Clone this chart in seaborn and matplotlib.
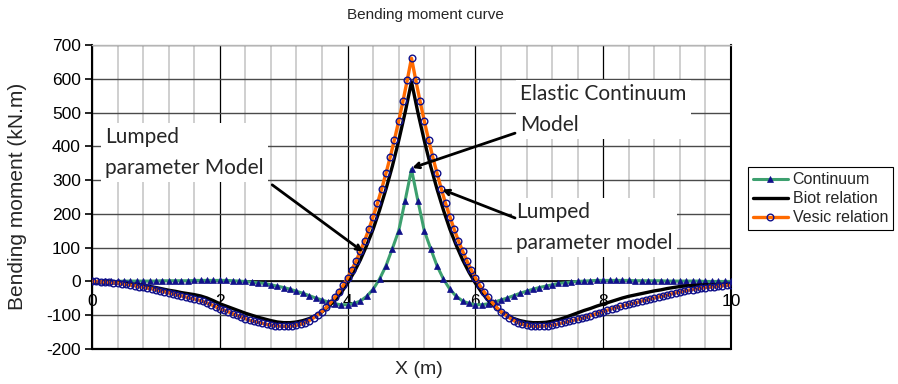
import numpy as np
import pandas as pd
import matplotlib
matplotlib.use("Agg")
import matplotlib.pyplot as plt
from matplotlib.ticker import MultipleLocator
import seaborn as sns

# ---------------- data ----------------
title = "Bending moment curve"
xlabel = "X (m)"
ylabel = "Bending moment (kN.m)"
series_names = ["Continuum", "Biot relation", "Vesic relation"]

x_tick_values = [0, 2, 4, 6, 8, 10]
y_tick_values = [-200, -100, 0, 100, 200, 300, 400, 500, 600, 700]

# Continuum (sampled every 0.1 m)
continuum = [0, 0, 0, 0, 0, 1, 1, 1, 1, 1,
             1, 2, 2, 2, 2, 2, 3, 3, 3, 3,
             3, 3, 2, 1, 0, -2, -4, -6, -10, -14,
             -18, -23, -29, -35, -42, -49, -55, -61, -66, -69,
             -69, -65, -58, -44, -23, 7, 46, 97, 150, 239,
             332,
             239, 150, 97, 46, 7, -23, -44, -58, -65, -69,
             -69, -66, -61, -55, -49, -42, -35, -29, -23, -18,
             -14, -10, -6, -4, -2, 0, 1, 2, 3, 3,
             3, 3, 3, 3, 2, 2, 2, 2, 2, 1,
             1, 1, 1, 1, 1, 0, 0, 0, 0, 0]

# Biot relation (sampled every 0.1 m)
biot = [0, -1, -1, -2, -3, -5, -7, -9, -12, -15,
        -18, -22, -26, -29, -33, -36, -39, -43, -49, -57,
        -66, -73, -80, -87, -94, -100, -106, -111, -116, -120,
        -122, -122, -120, -116, -110, -101, -90, -74, -56, -33,
        -5, 27, 64, 107, 155, 211, 273, 341, 417, 500,
        591,
        500, 417, 341, 273, 211, 155, 107, 64, 27, -5,
        -33, -56, -74, -90, -101, -110, -116, -120, -122, -122,
        -121, -118, -113, -107, -100, -93, -86, -80, -73, -67,
        -61, -55, -49, -44, -40, -36, -32, -28, -25, -21,
        -18, -15, -13, -12, -11, -10, -10, -9, -9, -8]

# Vesic relation (sampled every 1/15 m)
vesic = [0, 0, -1, -2, -3, -4, -5, -7, -9, -11,
         -13, -15, -17, -20, -22, -25, -28, -31, -34, -37,
         -40, -43, -46, -49, -52, -55, -59, -64, -69, -75,
         -81, -85, -90, -95, -100, -105, -110, -115, -118, -121,
         -124, -127, -129, -131, -132, -133,
         -133, -132, -130, -127, -122, -116, -108, -99, -89, -77,
         -63, -47, -30, -11, 11, 35, 61, 90, 121, 155,
         192, 231, 274, 320, 368, 420, 475, 534, 596, 661,
         596, 534, 475, 420, 368, 320, 274, 231, 192, 155,
         121, 90, 61, 35, 11, -11, -30, -47, -63, -77,
         -89, -99, -108, -116, -122,
         -127, -130, -132, -133, -133, -132, -131, -129, -127, -124,
         -121, -118, -115, -112, -109, -105, -101, -97, -93, -89,
         -85, -81, -78, -74, -71, -68, -65, -62, -58, -55,
         -52, -49, -46, -43, -40, -37, -34, -31, -28, -26,
         -24, -22, -20, -18, -17, -16, -14, -13, -12, -10]

x_coarse = np.linspace(0, 10, len(continuum))
x_fine = np.linspace(0, 10, len(vesic))

ann_elastic = "Elastic Continuum\nModel"
ann_lumped_left = "Lumped\nparameter Model"
ann_lumped_right = "Lumped\nparameter model"

# ---------------- style ----------------
sns.set_theme(style="white")
plt.rcParams["font.family"] = ["Liberation Sans", "DejaVu Sans"]

W, H = 898, 384
fig = plt.figure(figsize=(W / 100, H / 100), dpi=100)
ax = fig.add_axes([92 / W, 1 - 349 / H, (731 - 92) / W, (349 - 45) / H])

green = "#3DA06F"
orange = "#FF6A00"
navy = "#10108A"

df_c = pd.DataFrame({"x": x_coarse, "y": continuum})
df_b = pd.DataFrame({"x": x_coarse, "y": biot})
df_v = pd.DataFrame({"x": x_fine, "y": vesic})

sns.lineplot(data=df_c, x="x", y="y", ax=ax, color=green, lw=2.2,
             marker="^", markersize=5, markerfacecolor=navy,
             markeredgecolor=navy, markeredgewidth=0.5,
             label=series_names[0], sort=False, estimator=None, zorder=4)
sns.lineplot(data=df_b, x="x", y="y", ax=ax, color="black", lw=2.4,
             label=series_names[1], sort=False, estimator=None, zorder=4)
sns.lineplot(data=df_v, x="x", y="y", ax=ax, color=orange, lw=2.4,
             marker="o", markersize=4.8, markerfacecolor="none",
             markeredgecolor=navy, markeredgewidth=1.0,
             label=series_names[2], sort=False, estimator=None, zorder=5)

ax.set_xlim(0, 10)
ax.set_ylim(-200, 700)
ax.set_xticks(x_tick_values)
ax.set_xticklabels([str(v) for v in x_tick_values])
ax.set_yticks(y_tick_values)
ax.set_yticklabels([str(v) for v in y_tick_values])
ax.xaxis.set_minor_locator(MultipleLocator(0.4))

ax.set_axisbelow(True)
ax.grid(False)
ax.yaxis.grid(True, which="major", color="#4a4a4a", lw=1.0)
ax.xaxis.grid(True, which="major", color="black", lw=0.9)
ax.xaxis.grid(True, which="minor", color="#cccccc", lw=1.3)

# axis at y = 0 (Excel style)
ax.spines["bottom"].set_position(("data", 0))
ax.spines["bottom"].set_color("black")
ax.spines["bottom"].set_linewidth(1.2)
ax.axhline(-200, color="black", lw=1.6, clip_on=False, zorder=6)
ax.spines["left"].set_color("black")
ax.spines["left"].set_linewidth(1.5)
ax.spines["right"].set_color("black")
ax.spines["right"].set_linewidth(1.5)
ax.spines["top"].set_color("#b5b5b5")
ax.spines["top"].set_linewidth(1.0)

ax.tick_params(axis="x", which="both", length=0, pad=9, labelsize=12.5,
               colors="black")
ax.tick_params(axis="y", which="major", length=5, width=1.2, direction="out",
               left=True, pad=3, labelsize=12.5, colors="black")
ax.set_xlabel("")
ax.set_ylabel("")

fig.text(425 / W, 1 - 15 / H, title, ha="center", va="center", fontsize=11)
fig.text(419 / W, 1 - 370 / H, xlabel, ha="center", va="center", fontsize=14)
fig.text(18 / W, 1 - 196 / H, ylabel, ha="center", va="center",
         rotation=90, fontsize=15)

# annotations
afont = ["Lato", "DejaVu Sans"]
bbox = dict(facecolor="white", edgecolor="none", pad=3)
ax.text(6.70, 509, ann_elastic, ha="left", va="center", fontsize=15,
        family=afont, linespacing=1.65, bbox=bbox, zorder=3)
ax.text(6.64, 160, ann_lumped_right, ha="left", va="center", fontsize=15,
        family=afont, linespacing=1.65, bbox=bbox, zorder=3)
ax.text(0.20, 382, ann_lumped_left, ha="left", va="center", fontsize=15,
        family=afont, linespacing=1.65, bbox=bbox, zorder=3)

arrow = dict(arrowstyle="->", lw=2.0, color="black", shrinkA=0, shrinkB=0,
             mutation_scale=9)
ax.annotate("", xy=(5.01, 336), xytext=(6.62, 439), arrowprops=arrow, zorder=7)
ax.annotate("", xy=(5.48, 272), xytext=(6.62, 188), arrowprops=arrow, zorder=7)
ax.annotate("", xy=(4.24, 88), xytext=(2.82, 286), arrowprops=arrow, zorder=7)

leg = ax.legend(loc="lower left", bbox_to_anchor=(748 / W, 1 - 230 / H),
                bbox_transform=fig.transFigure, frameon=True, fancybox=False,
                edgecolor="black", framealpha=1, fontsize=11.5,
                borderpad=0.3, labelspacing=0.25, handlelength=2.2,
                handletextpad=0.3, borderaxespad=0)
leg.get_frame().set_linewidth(0.8)

fig.savefig("out.png", dpi=100)
